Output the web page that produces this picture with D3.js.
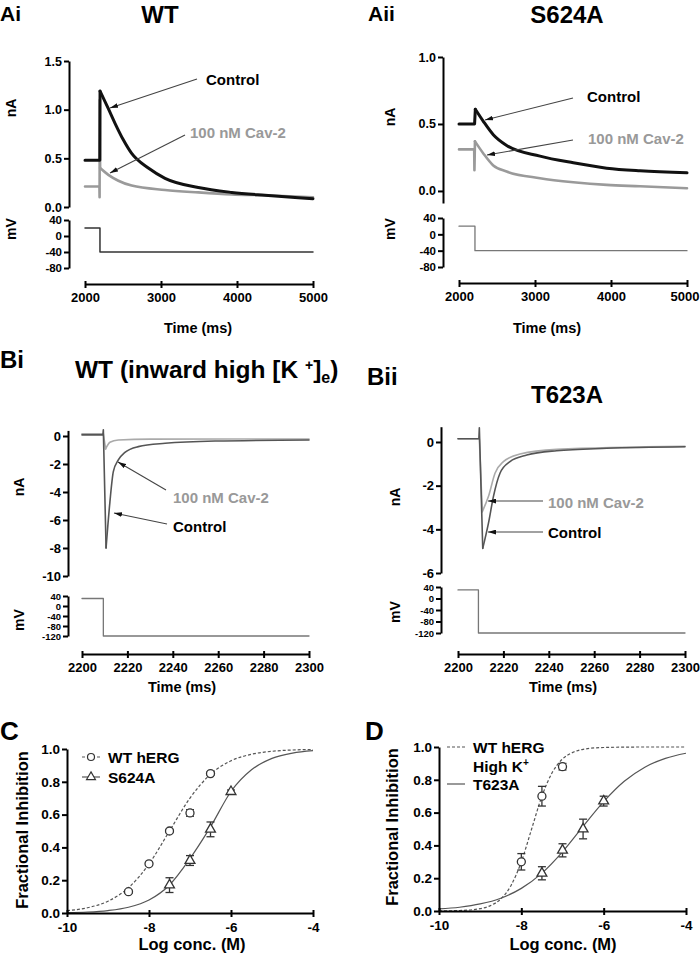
<!DOCTYPE html>
<html><head><meta charset="utf-8">
<script src="https://cdn.jsdelivr.net/npm/d3@7"></script>
<style>
body{margin:0;background:#fff;}
svg{display:block;font-family:"Liberation Sans",Arial,sans-serif;}
.axis path,.axis line{stroke:#000;stroke-width:2;}
.axis text{font-family:"Liberation Sans",Arial,sans-serif;font-weight:bold;font-size:13px;fill:#000;}
.lbl{font-weight:bold;fill:#000;}
.plab{font-family:"Liberation Sans",Arial,sans-serif;font-weight:bold;fill:#000;}
</style></head><body>
<svg id="fig" width="700" height="956"></svg>
<script>
// ================= DATA =================
// Panel Ai (WT) – current traces (time ms, current nA)
const AiTimeCtrl = [2000, 2195, 2198, 2307, 2395, 2504, 2614, 2833, 3053, 3491, 3930, 4368, 4807, 5000];
const AiCurCtrl  = [0.48, 0.48, 1.19, 1.01, 0.86, 0.69, 0.55, 0.40, 0.295, 0.20, 0.15, 0.12, 0.095, 0.085];
const AiTimeCav  = [2000, 2190, 2192, 2194, 2199, 2307, 2439, 2614, 3053, 3491, 3930, 4368, 5000];
const AiCurCav   = [0.21, 0.21, 0.10, 1.10, 0.40, 0.33, 0.27, 0.22, 0.175, 0.15, 0.13, 0.12, 0.10];
const AiTimeVm   = [2000, 2197, 2197, 5000];
const AiVm       = [20, 20, -40, -40];
const AiTicksNA  = [0, 0.5, 1.0, 1.5];
const AiTicksMV  = [40, 0, -40, -80];
const AiTicksT   = [2000, 3000, 4000, 5000];

// Panel Aii (S624A)
const AiiTimeCtrl = [2000, 2205, 2215, 2320, 2451, 2627, 3066, 3504, 3943, 4382, 5000];
const AiiCurCtrl  = [0.50, 0.50, 0.61, 0.52, 0.42, 0.34, 0.26, 0.21, 0.17, 0.15, 0.135];
const AiiTimeCav  = [2000, 2200, 2203, 2210, 2320, 2451, 2627, 3066, 3504, 3943, 4382, 5000];
const AiiCurCav   = [0.31, 0.31, 0.155, 0.37, 0.28, 0.19, 0.145, 0.095, 0.065, 0.045, 0.035, 0.02];
const AiiTimeVm   = [2000, 2210, 2210, 5000];
const AiiVm       = [20, 20, -40, -40];
const AiiTicksNA  = [0, 0.5, 1.0];
const AiiTicksMV  = [40, 0, -40, -80];
const AiiTicksT   = [2000, 3000, 4000, 5000];

// Panel Bi (WT, inward high [K+]e)
const BiTimeCtrl = [2200, 2209.2, 2209.4, 2210.6, 2212.3, 2213.8, 2216, 2218.9, 2224.8, 2236.6, 2258.6, 2300];
const BiCurCtrl  = [0.08, 0.08, 0.45, -8.0, -4.7, -2.55, -1.71, -1.17, -0.76, -0.52, -0.36, -0.29];
const BiTimeCav  = [2200, 2209.4, 2210.4, 2212.3, 2216, 2230, 2300];
const BiCurCav   = [0.15, 0.15, -0.93, -0.45, -0.29, -0.22, -0.21];
const BiTimeVm   = [2200, 2209.4, 2209.4, 2300];
const BiVm       = [30, 30, -120, -120];
const BiTicksNA  = [0, -2, -4, -6, -8, -10];
const BiTicksMV  = [40, 0, -40, -80, -120];
const BiTicksT   = [2200, 2220, 2240, 2260, 2280, 2300];

// Panel Bii (T623A)
const BiiTimeCtrl = [2200, 2209.2, 2209.4, 2210.9, 2213.4, 2215.6, 2218.5, 2222.9, 2230.3, 2243.5, 2265.5, 2300];
const BiiCurCtrl  = [0.15, 0.15, 0.65, -4.87, -3.73, -2.5, -1.43, -0.90, -0.60, -0.40, -0.29, -0.22];
const BiiTimeCav  = [2200, 2209.4, 2210.7, 2213.4, 2216.3, 2220, 2227.3, 2243.5, 2300];
const BiiCurCav   = [0.15, 0.15, -3.19, -2.5, -1.43, -0.9, -0.55, -0.34, -0.2];
const BiiTimeVm   = [2200, 2209, 2209, 2300];
const BiiVm       = [30, 30, -120, -120];
const BiiTicksNA  = [0, -2, -4, -6];
const BiiTicksMV  = [40, 0, -40, -80, -120];
const BiiTicksT   = [2200, 2220, 2240, 2260, 2280, 2300];

// Panel C – concentration-response (log M, fractional inhibition)
const CWtLogC   = [-8.5, -8, -7.5, -7, -6.5];
const CWtInh    = [0.13, 0.30, 0.50, 0.61, 0.85];
const CWtErr    = [0.01, 0.01, 0.01, 0.02, 0.01];
const CMutLogC  = [-7.5, -7, -6.5, -6];
const CMutInh   = [0.17, 0.32, 0.51, 0.74];
const CMutErr   = [0.045, 0.03, 0.045, 0.01];
const CFitLogC  = [-10, -9.5, -9, -8.5, -8, -7.5, -7, -6.5, -6, -5.5, -5, -4.5, -4];
const CFitWt    = [0.014, 0.032, 0.072, 0.154, 0.299, 0.5, 0.701, 0.846, 0.928, 0.968, 0.986, 0.994, 0.997];
const CFitMut   = [0.003, 0.006, 0.015, 0.035, 0.079, 0.171, 0.332, 0.525, 0.741, 0.873, 0.943, 0.975, 0.99];

// Panel D
const DWtLogC   = [-8, -7.5, -7];
const DWtInh    = [0.30, 0.70, 0.88];
const DWtErr    = [0.05, 0.06, 0.02];
const DMutLogC  = [-7.5, -7, -6.5, -6];
const DMutInh   = [0.23, 0.37, 0.50, 0.67];
const DMutErr   = [0.04, 0.04, 0.06, 0.03];
const DFitWtLogC = [-10, -9.5, -9, -8.75, -8.5, -8.25, -8, -7.75, -7.5, -7.25, -7, -6.75, -6.5, -6, -5, -4];
const DFitWt     = [0.0005, 0.003, 0.014, 0.033, 0.073, 0.156, 0.30, 0.50, 0.70, 0.844, 0.927, 0.967, 0.986, 0.997, 1.0, 1.0];
const DFitMutLogC = [-10, -9.5, -9, -8.5, -8, -7.5, -7, -6.5, -6, -5.5, -5, -4.5, -4];
const DFitMut     = [0.0125, 0.023, 0.043, 0.078, 0.138, 0.231, 0.361, 0.516, 0.667, 0.791, 0.877, 0.931, 0.962];
const DoseTicksX = [-10, -8, -6, -4];
const DoseTicksY = [0, 0.2, 0.4, 0.6, 0.8, 1.0];

// ================= DRAWING =================
const svg = d3.select('#fig');
const defs = svg.append('defs');
defs.append('marker').attr('id','arr').attr('viewBox','0 0 10 6').attr('refX',10).attr('refY',3)
  .attr('markerWidth',8).attr('markerHeight',5).attr('markerUnits','userSpaceOnUse').attr('orient','auto')
  .append('path').attr('d','M0,0L10,3L0,6Z').attr('fill','#111');

const zip = (a,b) => a.map((d,i)=>[d,b[i]]);
const str = d => String(d);

function axL(scale, x, ticks, fmt, fs){
  const a = svg.append('g').attr('class','axis').attr('transform',`translate(${x},0)`)
    .call(d3.axisLeft(scale).tickValues(ticks).tickFormat(fmt).tickSize(5).tickSizeOuter(0).tickPadding(2));
  if (fs) a.selectAll('text').style('font-size', fs+'px');
  return a;
}
function axB(scale, y, ticks, fmt, fs){
  const a = svg.append('g').attr('class','axis').attr('transform',`translate(0,${y})`)
    .call(d3.axisBottom(scale).tickValues(ticks).tickFormat(fmt).tickSize(4).tickSizeOuter(0).tickPadding(5));
  a.selectAll('.tick line').attr('y1',-3);
  if (fs) a.selectAll('text').style('font-size', fs+'px');
  return a;
}
// trace: straight segments up to index k (step / fast transient), smooth decay from k on
function trace(xs, ys, ts, vs, color, w, k){
  const pts = zip(ts, vs);
  const g = svg.append('g').attr('fill','none').attr('stroke',color).attr('stroke-width',w)
    .attr('stroke-linejoin','round').attr('stroke-linecap','round');
  if (k === undefined) {
    g.append('path').datum(pts).attr('d', d3.line().x(d=>xs(d[0])).y(d=>ys(d[1])));
    return;
  }
  g.append('path').datum(pts.slice(0, k+1)).attr('d', d3.line().x(d=>xs(d[0])).y(d=>ys(d[1])));
  g.append('path').datum(pts.slice(k))
    .attr('d', d3.line().x(d=>xs(d[0])).y(d=>ys(d[1])).curve(d3.curveMonotoneX));
}
function text(x, y, s, opts){
  opts = opts || {};
  const t = svg.append('text').attr('x',x).attr('y',y).text(s)
    .attr('class', opts.cls || 'lbl')
    .style('font-size', (opts.fs||14)+'px')
    .attr('text-anchor', opts.anchor || 'start');
  if (opts.fill) t.style('fill', opts.fill);
  return t;
}
function vtext(x, y, s, fs){
  svg.append('text').attr('class','lbl').attr('transform',`translate(${x},${y}) rotate(-90)`)
    .attr('text-anchor','middle').attr('dy','0.35em').style('font-size',fs+'px').text(s);
}
function arrow(x1,y1,x2,y2){
  svg.append('line').attr('x1',x1).attr('y1',y1).attr('x2',x2).attr('y2',y2)
    .attr('stroke','#444').attr('stroke-width',1.1).attr('marker-end','url(#arr)');
}

const CTRL = '#111', CAV = '#9a9a9a', CAVTXT = '#999';

// ---------- Ai ----------
{
  const x = d3.scaleLinear([2000,5000],[85,313]);
  const y = d3.scaleLinear([0,1.5],[207,61]);
  const yv = d3.scaleLinear([-80,40],[268,220]);
  axL(y, 69, AiTicksNA, d3.format('.1f'), 12.5);
  axL(yv, 69, AiTicksMV, str, 11.5);
  axB(x, 284, AiTicksT, str);
  trace(x, y, AiTimeCav, AiCurCav, CAV, 2.6, 4);
  trace(x, y, AiTimeCtrl, AiCurCtrl, CTRL, 3, 2);
  trace(x, yv, AiTimeVm, AiVm, '#333', 1.5);
  text(0, 21, 'Ai', {cls:'plab', fs:21});
  text(160, 23, 'WT', {fs:24, anchor:'middle'});
  vtext(11, 108, 'nA', 14);
  vtext(11, 229, 'mV', 14);
  text(198, 333, 'Time (ms)', {fs:14.5, anchor:'middle'});
  text(206, 85, 'Control', {fs:15});
  arrow(197, 79, 110, 108);
  text(190, 138, '100 nM Cav-2', {fs:15, fill:CAVTXT});
  arrow(185, 135, 110, 173);
}
// ---------- Aii ----------
{
  const x = d3.scaleLinear([2000,5000],[459,687]);
  const y = d3.scaleLinear([-0.09,1.0],[203,57]);
  const yv = d3.scaleLinear([-80,40],[267,218]);
  axL(y, 443, AiiTicksNA, d3.format('.1f'), 12.5);
  axL(yv, 443, AiiTicksMV, str, 11.5);
  const xa = axB(x, 283, AiiTicksT, str);
  xa.selectAll('.tick text').filter(d => d === 5000).attr('dx', -2.5);
  trace(x, y, AiiTimeCav, AiiCurCav, CAV, 2.6, 3);
  trace(x, y, AiiTimeCtrl, AiiCurCtrl, CTRL, 3, 2);
  trace(x, yv, AiiTimeVm, AiiVm, '#777', 1.3);
  text(368, 21, 'Aii', {cls:'plab', fs:21});
  text(567, 23, 'S624A', {fs:24, anchor:'middle'});
  vtext(390, 117, 'nA', 14);
  vtext(390, 229, 'mV', 14);
  text(547, 333, 'Time (ms)', {fs:14.5, anchor:'middle'});
  text(587, 102, 'Control', {fs:15});
  arrow(573, 98, 485, 120);
  text(588, 144, '100 nM Cav-2', {fs:15, fill:CAVTXT});
  arrow(573, 140, 487, 155);
}
// ---------- Bi ----------
{
  const x = d3.scaleLinear([2200,2300],[82,309]);
  const y = d3.scaleLinear([-10,0.4],[576,430.4]);
  const yv = d3.scaleLinear([-120,40],[636,596]);
  axL(y, 68, BiTicksNA, str);
  axL(yv, 68, BiTicksMV, str, 9.5);
  axB(x, 654, BiTicksT, str);
  trace(x, y, BiTimeCav, BiCurCav, '#aaa', 1.6, 2);
  trace(x, y, BiTimeCtrl, BiCurCtrl, '#555', 1.6, 3);
  trace(x, yv, BiTimeVm, BiVm, '#777', 1.3);
  text(0, 368, 'Bi', {cls:'plab', fs:24});
  const t = text(75, 378, 'WT (inward high [K ', {fs:24.5});
  t.append('tspan').attr('dy',-8).style('font-size','14px').text('+');
  t.append('tspan').attr('dy',8).text(']');
  t.append('tspan').attr('dy',5).style('font-size','16px').text('e');
  t.append('tspan').attr('dy',-5).text(')');
  vtext(19, 487, 'nA', 14);
  vtext(19, 620, 'mV', 14);
  text(182, 692, 'Time (ms)', {fs:14.5, anchor:'middle'});
  text(173, 503, '100 nM Cav-2', {fs:15, fill:CAVTXT});
  arrow(166, 490, 118, 462);
  text(173, 532, 'Control', {fs:15});
  arrow(167, 524, 114, 513);
}
// ---------- Bii ----------
{
  const x = d3.scaleLinear([2200,2300],[458,685]);
  const y = d3.scaleLinear([-6,0.7],[573,426.7]);
  const yv = d3.scaleLinear([-120,40],[633,587]);
  axL(y, 441, BiiTicksNA, str);
  axL(yv, 441, BiiTicksMV, str, 9.5);
  axB(x, 654, BiiTicksT, str);
  trace(x, y, BiiTimeCav, BiiCurCav, '#aaa', 1.6, 2);
  trace(x, y, BiiTimeCtrl, BiiCurCtrl, '#555', 1.6, 3);
  trace(x, yv, BiiTimeVm, BiiVm, '#777', 1.3);
  text(367, 385, 'Bii', {cls:'plab', fs:24});
  text(567, 403, 'T623A', {fs:24, anchor:'middle'});
  vtext(395, 497, 'nA', 14);
  vtext(395, 612, 'mV', 14);
  text(563, 692, 'Time (ms)', {fs:14.5, anchor:'middle'});
  text(548, 508, '100 nM Cav-2', {fs:15, fill:CAVTXT});
  arrow(543, 501, 488, 501);
  text(548, 538, 'Control', {fs:15});
  arrow(543, 532, 488, 532);
}

function errbars(x, y, xs, ys, es){
  const g = svg.append('g').attr('stroke','#333').attr('stroke-width',1.3);
  xs.forEach((d,i)=>{
    const cx = x(d), y1 = y(ys[i]-es[i]), y2 = y(ys[i]+es[i]);
    g.append('line').attr('x1',cx).attr('x2',cx).attr('y1',y1).attr('y2',y2);
    g.append('line').attr('x1',cx-4).attr('x2',cx+4).attr('y1',y1).attr('y2',y1);
    g.append('line').attr('x1',cx-4).attr('x2',cx+4).attr('y1',y2).attr('y2',y2);
  });
}
function circles(x, y, xs, ys){
  svg.append('g').selectAll('circle').data(zip(xs,ys)).join('circle')
    .attr('cx',d=>x(d[0])).attr('cy',d=>y(d[1])).attr('r',4)
    .attr('fill','#fff').attr('stroke','#333').attr('stroke-width',1.3);
}
function triangles(x, y, xs, ys){
  svg.append('g').selectAll('path').data(zip(xs,ys)).join('path')
    .attr('transform',d=>`translate(${x(d[0])},${y(d[1])})`)
    .attr('d', d3.symbol(d3.symbolTriangle, 42))
    .attr('fill','#fff').attr('stroke','#333').attr('stroke-width',1.3);
}
function fit(x, y, xs, ys, dashed){
  svg.append('path').datum(zip(xs,ys))
    .attr('d', d3.line().x(d=>x(d[0])).y(d=>y(d[1])).curve(d3.curveMonotoneX))
    .attr('fill','none').attr('stroke','#555').attr('stroke-width',1.2)
    .attr('stroke-dasharray', dashed ? '3,2' : null);
}

// ---------- C ----------
{
  const x = d3.scaleLinear([-10,-4],[67,313]);
  const y = d3.scaleLinear([0,1],[913,749]);
  fit(x, y, CFitLogC, CFitWt, true);
  fit(x, y, CFitLogC, CFitMut, false);
  axL(y, 67, DoseTicksY, d3.format('.1f'), 13.5);
  axB(x, 913, DoseTicksX, str, 13.5);
  errbars(x, y, CWtLogC, CWtInh, CWtErr);
  errbars(x, y, CMutLogC, CMutInh, CMutErr);
  circles(x, y, CWtLogC, CWtInh);
  triangles(x, y, CMutLogC, CMutInh);
  text(0, 740, 'C', {cls:'plab', fs:26});
  vtext(22, 830, 'Fractional Inhibition', 16.5);
  text(192, 950, 'Log conc. (M)', {fs:16.5, anchor:'middle'});
  // legend
  svg.append('line').attr('x1',82).attr('x2',100).attr('y1',757).attr('y2',757)
    .attr('stroke','#555').attr('stroke-width',1.2).attr('stroke-dasharray','3,2');
  svg.append('circle').attr('cx',91).attr('cy',757).attr('r',3.5).attr('fill','#fff').attr('stroke','#333').attr('stroke-width',1.2);
  text(108, 762.5, 'WT hERG', {fs:15.5});
  svg.append('line').attr('x1',82).attr('x2',100).attr('y1',777).attr('y2',777)
    .attr('stroke','#555').attr('stroke-width',1.2);
  svg.append('path').attr('transform','translate(91,777)').attr('d', d3.symbol(d3.symbolTriangle, 34))
    .attr('fill','#fff').attr('stroke','#333').attr('stroke-width',1.2);
  text(108, 782.5, 'S624A', {fs:15.5});
}
// ---------- D ----------
{
  const x = d3.scaleLinear([-10,-4],[439,686]);
  const y = d3.scaleLinear([0,1],[911,747]);
  fit(x, y, DFitWtLogC, DFitWt, true);
  fit(x, y, DFitMutLogC, DFitMut, false);
  axL(y, 439, DoseTicksY, d3.format('.1f'), 13.5);
  axB(x, 911, DoseTicksX, str, 13.5);
  errbars(x, y, DWtLogC, DWtInh, DWtErr);
  errbars(x, y, DMutLogC, DMutInh, DMutErr);
  circles(x, y, DWtLogC, DWtInh);
  triangles(x, y, DMutLogC, DMutInh);
  text(365, 740, 'D', {cls:'plab', fs:26});
  vtext(392, 827, 'Fractional Inhibition', 16.5);
  text(563, 950, 'Log conc. (M)', {fs:16.5, anchor:'middle'});
  svg.append('line').attr('x1',447).attr('x2',465).attr('y1',747).attr('y2',747)
    .attr('stroke','#555').attr('stroke-width',1.2).attr('stroke-dasharray','3,2');
  text(473, 752.5, 'WT hERG', {fs:15.5});
  const hk = text(473, 771.5, 'High K', {fs:15.5});
  hk.append('tspan').attr('dy',-6).style('font-size','10px').text('+');
  svg.append('line').attr('x1',447).attr('x2',465).attr('y1',784).attr('y2',784)
    .attr('stroke','#555').attr('stroke-width',1.2);
  text(473, 789.5, 'T623A', {fs:15.5});
}
</script>
</body></html>
